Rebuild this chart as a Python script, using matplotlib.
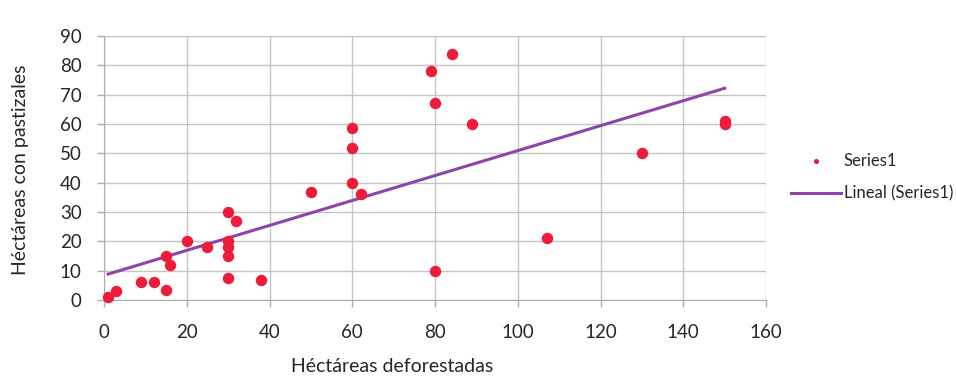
import matplotlib
matplotlib.use("Agg")
import matplotlib.pyplot as plt
import numpy as np

# datos
hect_deforestadas = [1, 3, 9, 12, 15, 15, 16, 20, 25, 30, 30, 30, 30, 30, 32, 38,
                     50, 60, 60, 60, 62, 79, 84, 80, 89, 80, 107, 130, 150, 150]
hect_pastizales = [1, 3, 6, 6, 3.5, 15, 12, 20, 18, 30, 20, 18, 15, 7.5, 27, 7,
                   37, 58.5, 52, 40, 36, 78, 84, 67, 60, 10, 21, 50, 61, 60]

x_ticks = list(range(0, 161, 20))
y_ticks = list(range(0, 91, 10))

plt.rcParams['font.family'] = ['Lato', 'DejaVu Sans']
txt = '#262626'
grid_col = '#c8c4c4'

fig = plt.figure(figsize=(9.56, 3.77), dpi=100)
ax = fig.add_axes([0.1088, 0.204, 0.6925, 0.7005])

x = np.array(hect_deforestadas, dtype=float)
y = np.array(hect_pastizales, dtype=float)
ax.scatter(x, y, s=68, color='#ee1c3a', zorder=3, label='Series1', linewidths=0,
           clip_on=False)

# linea de tendencia lineal
m, b = np.polyfit(x, y, 1)
xl = np.array([x.min(), x.max()])
ax.plot(xl, m * xl + b, color='#8e44ad', lw=2.2, zorder=2, label='Lineal (Series1)')

ax.set_xlim(0, 160)
ax.set_ylim(0, 90)
ax.set_xticks(x_ticks)
ax.set_yticks(y_ticks)
ax.grid(True, color=grid_col, lw=1)
ax.set_axisbelow(True)
for s in ['top', 'right']:
    ax.spines[s].set_visible(False)
for s in ['left', 'bottom']:
    ax.spines[s].set_color('#b0abab')
ax.tick_params(colors='#b0abab', labelcolor=txt, labelsize=13.5, length=5, width=1)
ax.tick_params(axis='y', pad=11)
ax.tick_params(axis='x', pad=12)

fig.text(0.021, 0.55, 'Héctáreas con pastizales', rotation=90, ha='center', va='center',
         fontsize=14, color=txt)
fig.text(0.41, 0.004, 'Héctáreas deforestadas', ha='center', va='bottom',
         fontsize=14, color=txt)

leg = fig.legend(loc='center left', bbox_to_anchor=(0.812, 0.53), frameon=False,
                 fontsize=12, markerscale=0.45, handlelength=3.0, handletextpad=0.15,
                 labelspacing=1.0)
for t in leg.get_texts():
    t.set_color(txt)

fig.savefig('out.png', dpi=100)
